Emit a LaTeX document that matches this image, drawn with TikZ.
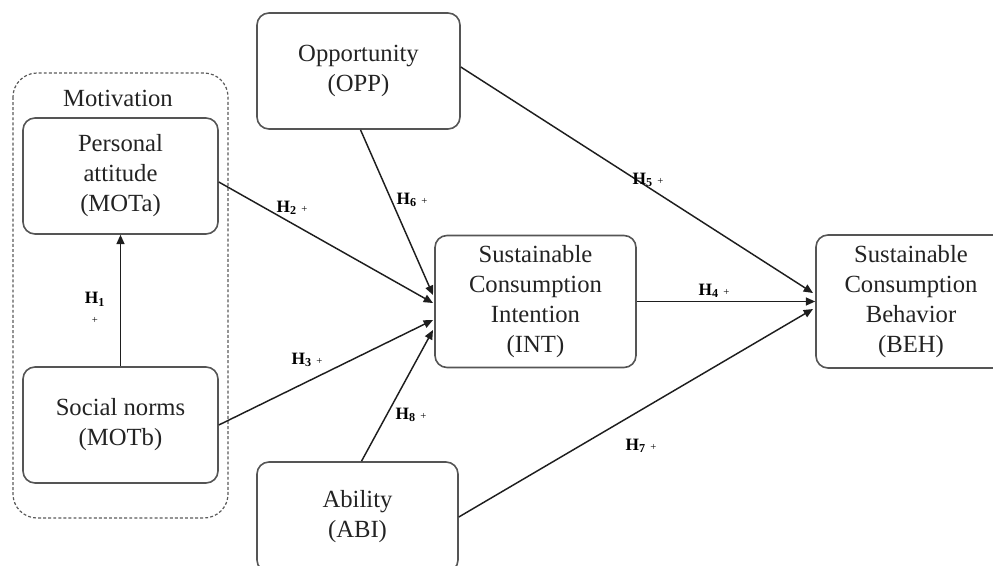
\documentclass[tikz,border=0pt]{standalone}
\usepackage{fontspec}
\setmainfont{Liberation Serif}
\usetikzlibrary{arrows.meta,calc}

\tikzset{every picture/.style={line width=0.75pt}}
\tikzset{
  varbox/.style={draw={rgb, 255:red, 85; green, 85; blue, 85 }, rounded corners=9pt, line width=1.2pt, align=center, inner sep=0pt, text={rgb, 255:red, 35; green, 35; blue, 35 }, font=\fontsize{18.5}{22.5}\selectfont},
  hyparrow/.style={-{Triangle[length=7pt,width=6pt]}, line width=1.1pt, color={rgb, 255:red, 30; green, 30; blue, 30 }},
  hyplabel/.style={inner sep=0.75pt, align=center, font=\fontsize{13}{13}\selectfont}
}
\newcommand{\hyp}[1]{\textbf{H}\textsubscript{\textbf{#1}}~{\footnotesize +}}

\begin{document}
\begin{tikzpicture}[x=0.75pt,y=0.75pt,yscale=-1,xscale=1]
\useasboundingbox (0,0) rectangle (993,565);

%Shape: Rounded Rect (motivation group)
\draw [color={rgb, 255:red, 90; green, 90; blue, 90 }, line width=0.9pt, dash pattern={on 2.2pt off 1.6pt}, rounded corners=18pt] (13,73) rectangle (228,518);
% Text Node
\node (motiv) at (118,98) [inner sep=0.75pt, text={rgb, 255:red, 35; green, 35; blue, 35 }, font=\fontsize{18.5}{22.5}\selectfont] {Motivation};

% Variables
\node (mota) at (120.5,176) [varbox, minimum width=146.25pt, minimum height=87pt] {Personal\\attitude\\(MOTa)};
\node (motb) at (120.5,425) [varbox, minimum width=146.25pt, minimum height=87pt] {Social norms\\(MOTb)};
\node (opp) at (358.5,71) [varbox, minimum width=152.25pt, minimum height=87pt] {Opportunity\\(OPP)};
\node (int) at (535.5,301.5) [varbox, minimum width=150.75pt, minimum height=99pt] {Sustainable\\Consumption\\Intention\\(INT)};
\node (beh) at (911,301.5) [varbox, minimum width=142.5pt, minimum height=99.75pt] {Sustainable\\Consumption\\Behavior\\(BEH)};
\node (abi) at (357.5,517) [varbox, minimum width=150.75pt, minimum height=82.5pt] {Ability\\(ABI)};

% Arrow ends
\coordinate (intH6) at (433,295);
\coordinate (intH2) at (433,303);
\coordinate (intH3) at (433,320);
\coordinate (intH8) at (433,330);
\coordinate (behH5) at (813,293);
\coordinate (behH7) at (813,309);

%Straight Lines
\draw [hyparrow] (motb.north) -- (mota.south);
\draw [hyparrow] ($(mota.east)+(0,6)$) -- (intH2);
\draw [hyparrow] (motb.east) -- (intH3);
\draw [hyparrow] ($(opp.south)+(2,0)$) -- (intH6);
\draw [hyparrow] ($(abi.north)+(4,0)$) -- (intH8);
\draw [hyparrow] (int.east) -- (beh.west);
\draw [hyparrow] ($(opp.east)+(0,-4)$) -- (behH5);
\draw [hyparrow] (abi.east) -- (behH7);

% Text Node
\node (h1) at (95,308) [hyplabel] {\textbf{H}\textsubscript{\textbf{1}}\\[2pt]{\footnotesize +}};
% Text Node
\node (h2) at (292,208) [hyplabel] {\hyp{2}};
% Text Node
\node (h3) at (307,360) [hyplabel] {\hyp{3}};
% Text Node
\node (h4) at (714,291) [hyplabel] {\hyp{4}};
% Text Node
\node (h5) at (648,180) [hyplabel] {\hyp{5}};
% Text Node
\node (h6) at (412,200) [hyplabel] {\hyp{6}};
% Text Node
\node (h7) at (641,446) [hyplabel] {\hyp{7}};
% Text Node
\node (h8) at (411,415) [hyplabel] {\hyp{8}};

\end{tikzpicture}
\end{document}
